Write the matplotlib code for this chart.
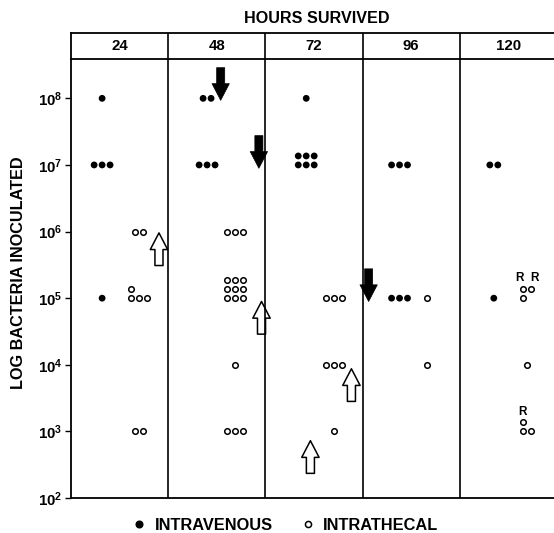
import matplotlib
matplotlib.use('Agg')
import matplotlib.pyplot as plt
from matplotlib.lines import Line2D
from matplotlib.ticker import NullLocator

plt.rcParams['font.family'] = ['Liberation Sans', 'DejaVu Sans']
plt.rcParams['font.weight'] = 'bold'
plt.rcParams['mathtext.fontset'] = 'custom'
plt.rcParams['mathtext.rm'] = 'Liberation Sans:bold'
plt.rcParams['mathtext.bf'] = 'Liberation Sans:bold'
plt.rcParams['mathtext.it'] = 'Liberation Sans:bold'
plt.rcParams['mathtext.default'] = 'bf'

# ---------------- data ----------------
hours = ["24", "48", "72", "96", "120"]
tick_exps = [2, 3, 4, 5, 6, 7, 8]

# intravenous (filled): panel index, log10 bacteria, number of animals
iv_panel = [0, 0, 0, 1, 1, 2, 2, 3, 3, 4, 4]
iv_exp = [8, 7, 5, 8, 7, 8, 7, 7, 5, 7, 5]
iv_count = [1, 3, 1, 2, 3, 1, 6, 3, 3, 2, 1]

# intrathecal (open)
it_panel = [0, 0, 0, 1, 1, 1, 1, 2, 2, 2, 3, 3, 4, 4, 4]
it_exp = [6, 5, 3, 6, 5, 4, 3, 5, 4, 3, 5, 4, 5, 4, 3]
it_count = [2, 4, 2, 3, 9, 1, 3, 3, 3, 1, 1, 1, 3, 1, 3]

# "R" marked intrathecal groups (panel, log10 value)
r_groups = [(4, 5), (4, 3)]

# arrows: panel, log10 level pointed at, route (IV = filled down, IT = open up)
arrow_panel = [0, 1, 1, 1, 2, 2, 3]
arrow_level = [5.98, 7.97, 6.95, 4.95, 3.94, 2.86, 4.95]
arrow_route = ['IT', 'IV', 'IV', 'IT', 'IT', 'IT', 'IV']

# ---------------- layout / style ----------------
iv_cx = [0.32, 0.40, 0.42, 0.38, 0.35]   # column centre within a panel
it_cx = [0.70, 0.69, 0.71, 0.66, 0.69]
arrow_xfrac = [0.905, 0.54, 0.933, 0.96, 0.885, 0.463, 0.062]
row_override = {('IT', 4, 5): [1, 2], ('IT', 4, 3): [2, 1]}
DX = 0.082       # dot spacing (panel units)
DY = 0.135       # stacked-row spacing (decades)
ARROW_LEN = 0.49

W, H = 554, 533
fig = plt.figure(figsize=(W / 100, H / 100), dpi=100)


def fx(px):
    return px / W


def fy(py):
    return 1 - py / H


x0, x1 = 71, 557
ytop, ybot, yhead = 59.3, 498, 32.7
ax = fig.add_axes([fx(x0), fy(ybot), fx(x1) - fx(x0), fy(ytop) - fy(ybot)])
axh = fig.add_axes([fx(x0), fy(ytop), fx(x1) - fx(x0), fy(yhead) - fy(ytop)])

LW = 1.3
ax.set_yscale('log')
ax.set_xlim(0, 5)
ax.set_ylim(10 ** 2, 10 ** 8.586)
for s in ['top', 'right']:
    ax.spines[s].set_visible(False)
for s in ['left', 'bottom']:
    ax.spines[s].set_linewidth(LW)
ax.set_xticks([])
ax.set_yticks([10 ** e for e in tick_exps])
ax.set_yticklabels([f'$10^{{{e}}}$' for e in tick_exps], fontsize=10.8)
ax.yaxis.set_minor_locator(NullLocator())
ax.tick_params(axis='y', direction='out', length=4.5, width=1.0, pad=1.5)
for i in range(1, 5):
    ax.axvline(i, color='black', lw=1.2, zorder=3)


def rows_for(route, p, e, n):
    if (route, p, e) in row_override:
        return row_override[(route, p, e)]
    rows = [3] * (n // 3)
    if n % 3:
        rows.append(n % 3)
    return rows


def positions(route, p, e, n, cx):
    rows = rows_for(route, p, e, n)
    left = p + cx - (max(rows) - 1) / 2 * DX
    xs, ys = [], []
    for r, k in enumerate(rows):
        for j in range(k):
            xs.append(left + j * DX)
            ys.append(10 ** (e + r * DY))
    return xs, ys, rows


for p, e, n in zip(iv_panel, iv_exp, iv_count):
    xs, ys, _ = positions('IV', p, e, n, iv_cx[p])
    ax.scatter(xs, ys, s=24, color='black', edgecolors='none', zorder=4)

for p, e, n in zip(it_panel, it_exp, it_count):
    xs, ys, rows = positions('IT', p, e, n, it_cx[p])
    ax.scatter(xs, ys, s=16, facecolors='white', edgecolors='black',
               linewidths=1.1, zorder=4)
    if (p, e) in r_groups:
        top_n = rows[-1]
        for k, (xx, yy) in enumerate(zip(xs[-top_n:], ys[-top_n:])):
            dxo = 0 if top_n == 1 else (-2.5 if k == 0 else 2.5)
            ax.annotate('R', xy=(xx, yy), xytext=(dxo, 7.8), textcoords='offset points',
                        ha='center', va='center', fontsize=8.5, fontweight='bold')

for p, lev, r, xf in zip(arrow_panel, arrow_level, arrow_route, arrow_xfrac):
    x = p + xf
    down = r == 'IV'
    tail = lev + ARROW_LEN if down else lev - ARROW_LEN
    ax.annotate('', xy=(x, 10 ** lev), xytext=(x, 10 ** tail),
                arrowprops=dict(arrowstyle='simple,head_length=1.2,head_width=1.25,tail_width=0.58',
                                mutation_scale=10,
                                fc='black' if down else 'white', ec='black',
                                lw=0.5 if down else 1.1, shrinkA=0, shrinkB=0),
                annotation_clip=False, zorder=2)

# header row
axh.set_xlim(0, 5)
axh.set_ylim(0, 1)
axh.set_xticks([])
axh.set_yticks([])
for s in axh.spines.values():
    s.set_linewidth(LW)
for i in range(1, 5):
    axh.axvline(i, color='black', lw=1.2)
for i, h in enumerate(hours):
    axh.text(i + 0.5, 0.5, h, ha='center', va='center', fontsize=10.8, fontweight='bold')

fig.text(fx(316.5), fy(18.5), 'HOURS SURVIVED', ha='center', va='center',
         fontsize=11.6, fontweight='bold')
fig.text(fx(19), fy(273), 'LOG BACTERIA INOCULATED', ha='center', va='center',
         rotation=90, fontsize=11.7, fontweight='bold')

handles = [Line2D([], [], ls='none', marker='o', ms=4.8, mfc='black', mec='black'),
           Line2D([], [], ls='none', marker='o', ms=4.4, mfc='white', mec='black', mew=1.1)]
fig.legend(handles, ['INTRAVENOUS', 'INTRATHECAL'], loc='center',
           bbox_to_anchor=(fx(286.5), fy(525)), ncol=2, frameon=False,
           handlelength=0.6, handletextpad=0.65, columnspacing=1.8,
           prop={'weight': 'bold', 'size': 11.8})

fig.savefig('out.png', dpi=100)
